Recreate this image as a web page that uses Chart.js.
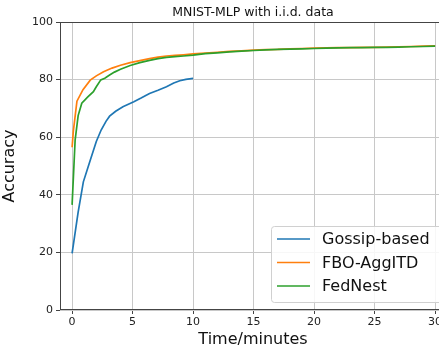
<!DOCTYPE html>
<html>
<head>
<meta charset="utf-8">
<script src="https://cdn.jsdelivr.net/npm/chart.js@4"></script>
<style>
  html, body { margin: 0; padding: 0; background: #fff; overflow: hidden; }
  #wrap { width: 439px; height: 349px; overflow: hidden; }
  #box { width: 448px; height: 349px; }
</style>
</head>
<body>
<div id="wrap"><div id="box"><canvas id="c"></canvas></div></div>
<script>
// ─── Data ───────────────────────────────────────────
const chartTitle = 'MNIST-MLP with i.i.d. data';
const seriesNames = ['Gossip-based', 'FBO-AggITD', 'FedNest'];
const seriesColors = ['#1f77b4', '#ff7f0e', '#2ca02c'];

const gossipX = [0, 0.5, 0.93, 1.5, 2.0, 2.4, 2.8, 3.1, 3.6, 4.2, 5.1, 5.7, 6.4, 7.1, 7.8, 8.4, 8.9, 9.4, 10];
const gossipY = [19.7, 34, 44.5, 52, 58.5, 62.5, 65.5, 67.3, 69, 70.6, 72.3, 73.6, 75.2, 76.3, 77.5, 78.8, 79.6, 80.1, 80.4];

const fboX = [0, 0.1, 0.4, 0.9, 1.5, 2.0, 2.6, 3.3, 4.0, 4.8, 5.6, 6.4, 7.1, 7.8, 8.5, 9.2, 10, 11, 12, 13, 14, 15, 16, 17, 18, 19, 20, 21, 22, 23, 24, 25, 26, 27, 28, 29, 30];
const fboY = [56.5, 62, 72.5, 76.5, 79.8, 81.3, 82.7, 84, 85, 85.9, 86.6, 87.3, 87.8, 88.2, 88.4, 88.6, 88.9, 89.2, 89.5, 89.8, 90.0, 90.2, 90.4, 90.5, 90.7, 90.8, 90.9, 91.0, 91.1, 91.1, 91.2, 91.2, 91.3, 91.4, 91.5, 91.6, 91.7];

const fedX = [0, 0.25, 0.5, 0.8, 1.3, 1.76, 2.0, 2.37, 2.7, 3.1, 3.5, 4.0, 4.8, 5.6, 6.4, 7.1, 7.8, 8.5, 9.2, 10, 11, 12, 13, 14, 15, 16, 17, 18, 19, 20, 21, 22, 23, 24, 25, 26, 27, 28, 29, 30];
const fedY = [36.5, 59, 67.5, 71.8, 74, 75.8, 77.5, 79.9, 80.5, 81.6, 82.6, 83.6, 84.9, 85.9, 86.7, 87.3, 87.7, 88.0, 88.2, 88.5, 89.0, 89.3, 89.6, 89.9, 90.1, 90.3, 90.5, 90.6, 90.7, 90.8, 90.9, 91.0, 91.1, 91.1, 91.2, 91.2, 91.3, 91.4, 91.5, 91.6];

const xTicks = [0, 5, 10, 15, 20, 25, 30];
const yTicks = [0, 20, 40, 60, 80, 100];
const xLabel = 'Time/minutes';
const yLabel = 'Accuracy';

// ─── Helpers ────────────────────────────────────────
function toPoints(xs, ys) {
  return xs.map((x, i) => ({ x: x, y: ys[i] }));
}

const FONT = 'DejaVu Sans';

// frame + title + legend drawn on top, matplotlib style
const mplDecor = {
  id: 'mplDecor',
  afterDraw(chart) {
    const ctx = chart.ctx;
    const a = chart.chartArea;
    ctx.save();
    // spines
    ctx.strokeStyle = '#444';
    ctx.lineWidth = 1;
    ctx.strokeRect(a.left + 0.5, a.top + 0.5, a.right - a.left - 1, a.bottom - a.top - 1);

    // title
    ctx.fillStyle = '#111';
    ctx.font = '12.5px "' + FONT + '"';
    ctx.textAlign = 'center';
    ctx.textBaseline = 'alphabetic';
    ctx.fillText(chartTitle, (a.left + a.right) / 2, a.top - 6);

    // legend
    const lx = 271, ly = 226, lw = 172, lh = 76;
    ctx.fillStyle = 'rgba(255,255,255,0.85)';
    ctx.strokeStyle = '#d0d0d0';
    ctx.beginPath();
    ctx.roundRect(lx + 0.5, ly + 0.5, lw, lh, 3);
    ctx.fill();
    ctx.stroke();
    ctx.font = '16px "' + FONT + '"';
    ctx.textAlign = 'left';
    ctx.textBaseline = 'middle';
    seriesNames.forEach((name, i) => {
      const y = ly + 13 + i * 23.5;
      ctx.strokeStyle = seriesColors[i];
      ctx.lineWidth = 1.6;
      ctx.beginPath();
      ctx.moveTo(lx + 6, y);
      ctx.lineTo(lx + 39, y);
      ctx.stroke();
      ctx.fillStyle = '#111';
      ctx.fillText(name, lx + 51, y + 1);
    });
    ctx.restore();
  }
};

const datasets = [
  toPoints(gossipX, gossipY),
  toPoints(fboX, fboY),
  toPoints(fedX, fedY)
].map((pts, i) => ({
  label: seriesNames[i],
  data: pts,
  borderColor: seriesColors[i],
  backgroundColor: seriesColors[i],
  borderWidth: 1.7,
  pointRadius: 0,
  tension: 0,
  fill: false,
  order: 2 - i // later series on top, like matplotlib
}));

new Chart(document.getElementById('c'), {
  type: 'line',
  data: { datasets: datasets },
  options: {
    responsive: true,
    maintainAspectRatio: false,
    animation: false,
    layout: { padding: { top: 22, right: 2, left: 0, bottom: 0 } },
    plugins: {
      legend: { display: false },
      tooltip: { enabled: false }
    },
    scales: {
      x: {
        type: 'linear',
        min: -1,
        max: 30.9,
        afterBuildTicks: (s) => { s.ticks = xTicks.map(v => ({ value: v })); },
        afterFit: (s) => { s.height = 39; },
        grid: { color: '#c8c8c8', lineWidth: 1, tickLength: 4, tickColor: '#444' },
        border: { display: false },
        ticks: { color: '#222', font: { family: FONT, size: 11 }, padding: 2, maxRotation: 0 },
        title: { display: true, text: xLabel, color: '#111', font: { family: FONT, size: 16 }, padding: { top: 0, bottom: 0 } }
      },
      y: {
        type: 'linear',
        min: 0,
        max: 100,
        afterBuildTicks: (s) => { s.ticks = yTicks.map(v => ({ value: v })); },
        afterFit: (s) => { s.width = 60; },
        grid: { color: '#c8c8c8', lineWidth: 1, tickLength: 4, tickColor: '#444' },
        border: { display: false },
        ticks: { color: '#222', font: { family: FONT, size: 11 }, padding: 3 },
        title: { display: true, text: yLabel, color: '#111', font: { family: FONT, size: 16 }, padding: { top: 0, bottom: 4 } }
      }
    }
  },
  plugins: [mplDecor]
});
</script>
</body>
</html>
